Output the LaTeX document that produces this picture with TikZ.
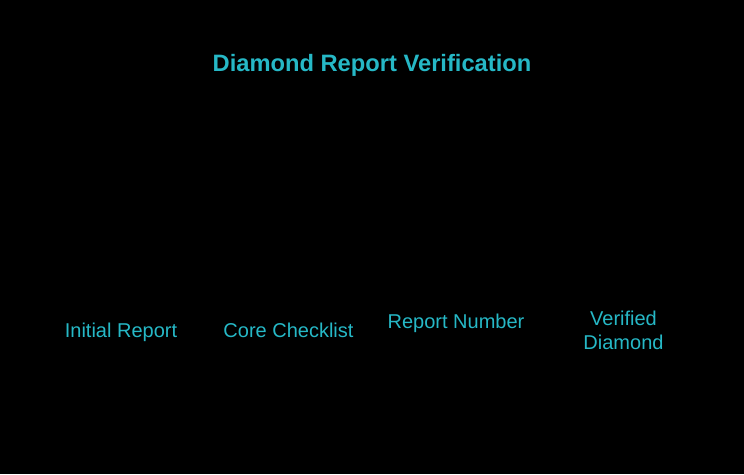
\documentclass[tikz,border=0pt]{standalone}
\usepackage{fontspec}
\setmainfont{Liberation Sans}
\usetikzlibrary{positioning}
\definecolor{labelcyan}{RGB}{38,184,198}
\tikzset{x=1pt, y=-1pt, node distance=167.5pt,
  stage/.style={text=labelcyan, font=\fontsize{20}{24}\selectfont, align=center},
  oneline/.style={text height=14.6pt, text depth=4.2pt}}

\begin{document}
\begin{tikzpicture}
\fill[black] (0,0) rectangle (744,474);
\useasboundingbox (0,0) rectangle (744,474);
\node (title) [text=labelcyan, font=\fontsize{23.7}{28}\selectfont\bfseries] at (372,65) {Diamond Report Verification};
\node (init) [stage, oneline] at (121,332) {Initial Report};
\node (core) [stage, oneline, right of=init] {Core Checklist};
\node (num) [stage, oneline, right of=core, yshift=9pt] {Report Number};
\node (verif) [stage, right of=core, xshift=167.5pt, yshift=1.5pt] {Verified\\Diamond};
\end{tikzpicture}
\end{document}
